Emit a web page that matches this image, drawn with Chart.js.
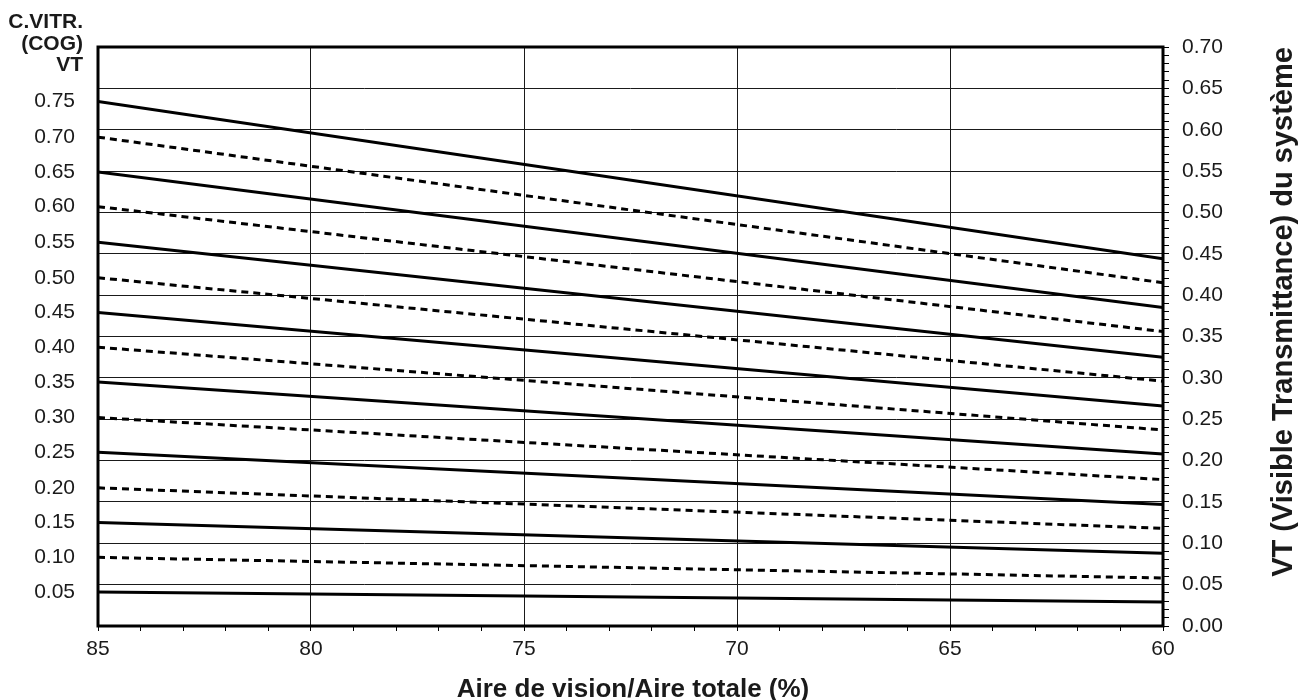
<!DOCTYPE html>
<html>
<head>
<meta charset="utf-8">
<script src="https://cdn.jsdelivr.net/npm/chart.js@4.4.1/dist/chart.umd.min.js"></script>
<style>
  html, body { margin: 0; padding: 0; background: #ffffff; }
  #wrap { width: 1312px; height: 700px; }
</style>
</head>
<body>
<div id="wrap"><canvas id="c" width="1312" height="700"></canvas></div>
<script>
// ---- data ----
const areaRatio = [85, 60];                       // x positions of each line's ends (%)
const cogLabels = ['0.75','0.70','0.65','0.60','0.55','0.50','0.45','0.40','0.35','0.30','0.25','0.20','0.15','0.10','0.05'];
const vtAt85 = [0.634, 0.591, 0.549, 0.507, 0.464, 0.421, 0.379, 0.337, 0.295, 0.252, 0.210, 0.167, 0.125, 0.083, 0.041];
const vtAt60 = [0.444, 0.415, 0.385, 0.356, 0.325, 0.296, 0.266, 0.237, 0.208, 0.177, 0.147, 0.118, 0.088, 0.058, 0.029];
const lineStyles = ['solid','dashed','solid','dashed','solid','dashed','solid','dashed','solid','dashed','solid','dashed','solid','dashed','solid'];
const xTitle = 'Aire de vision/Aire totale (%)';
const yRightTitle = 'VT (Visible Transmittance) du système';
const leftHeader = ['C.VITR.', '(COG)', 'VT'];

const FONT = "'Liberation Sans', Arial, Helvetica, sans-serif";
const TXT = '#1a1a1a';
const GRID = '#1a1a1a';

const datasets = cogLabels.map((lab, i) => ({
  label: 'COG ' + lab,
  data: [{ x: areaRatio[0], y: vtAt85[i] }, { x: areaRatio[1], y: vtAt60[i] }],
  xAxisID: 'x',
  yAxisID: 'y',
  borderColor: '#000',
  borderWidth: 3,
  borderDash: lineStyles[i] === 'dashed' ? [7, 5] : [],
  pointRadius: 0,
  fill: false,
  tension: 0
}));

const decor = {
  id: 'decor',
  afterDraw(chart) {
    const { ctx, chartArea: a } = chart;
    ctx.save();
    // frame
    ctx.strokeStyle = '#000';
    ctx.lineWidth = 3;
    ctx.strokeRect(a.left, a.top, a.right - a.left, a.bottom - a.top);
    // left header
    ctx.fillStyle = TXT;
    ctx.font = 'bold 21px ' + FONT;
    ctx.textAlign = 'right';
    ctx.textBaseline = 'alphabetic';
    const hy = [28, 50, 71];
    leftHeader.forEach((t, i) => ctx.fillText(t, 83, hy[i]));
    // bottom title
    ctx.font = 'bold 26px ' + FONT;
    ctx.textAlign = 'center';
    ctx.fillText(xTitle, 633, 697);
    // right title (reads bottom to top)
    ctx.font = 'bold 29px ' + FONT;
    ctx.translate(1292, 312);
    ctx.rotate(-Math.PI / 2);
    ctx.fillText(yRightTitle, 0, 0);
    ctx.restore();
  }
};

new Chart(document.getElementById('c'), {
  type: 'line',
  data: { datasets },
  options: {
    responsive: false,
    animation: false,
    layout: { padding: { top: 47, left: 0, right: 0, bottom: 0 } },
    plugins: { legend: { display: false }, tooltip: { enabled: false }, title: { display: false } },
    scales: {
      x: {
        type: 'linear',
        position: 'bottom',
        reverse: true,
        min: 60,
        max: 85,
        afterFit: s => { s.height = 74; },
        border: { display: false },
        grid: {
          color: c => (c.tick && Math.round(c.tick.value) % 5 === 0) ? GRID : 'rgba(0,0,0,0)',
          tickColor: '#000',
          tickLength: 5,
          lineWidth: 1
        },
        ticks: {
          stepSize: 1,
          autoSkip: false,
          maxRotation: 0,
          padding: 6,
          color: TXT,
          font: { family: FONT, size: 21 },
          callback: v => (Math.round(v) % 5 === 0 ? String(Math.round(v)) : '')
        }
      },
      y: {
        type: 'linear',
        position: 'right',
        min: 0,
        max: 0.7,
        afterFit: s => { s.width = 149; },
        border: { display: false },
        grid: {
          color: c => (c.tick && Math.round(c.tick.value * 100) % 5 === 0) ? GRID : 'rgba(0,0,0,0)',
          tickColor: '#000',
          tickLength: 6,
          lineWidth: 1
        },
        ticks: {
          stepSize: 0.01,
          autoSkip: false,
          padding: 13,
          color: TXT,
          font: { family: FONT, size: 21 },
          callback: v => (Math.round(v * 100) % 5 === 0 ? v.toFixed(2) : '')
        }
      },
      yL: {
        type: 'linear',
        position: 'left',
        min: 0,
        max: 0.7,
        afterFit: s => { s.width = 98; },
        afterBuildTicks: s => { s.ticks = vtAt85.map(v => ({ value: v })); },
        border: { display: false },
        grid: { drawOnChartArea: false, drawTicks: false },
        ticks: {
          autoSkip: false,
          padding: 23,
          color: TXT,
          font: { family: FONT, size: 21 },
          callback: (v, i) => cogLabels[i]
        }
      }
    }
  },
  plugins: [decor]
});
</script>
</body>
</html>
